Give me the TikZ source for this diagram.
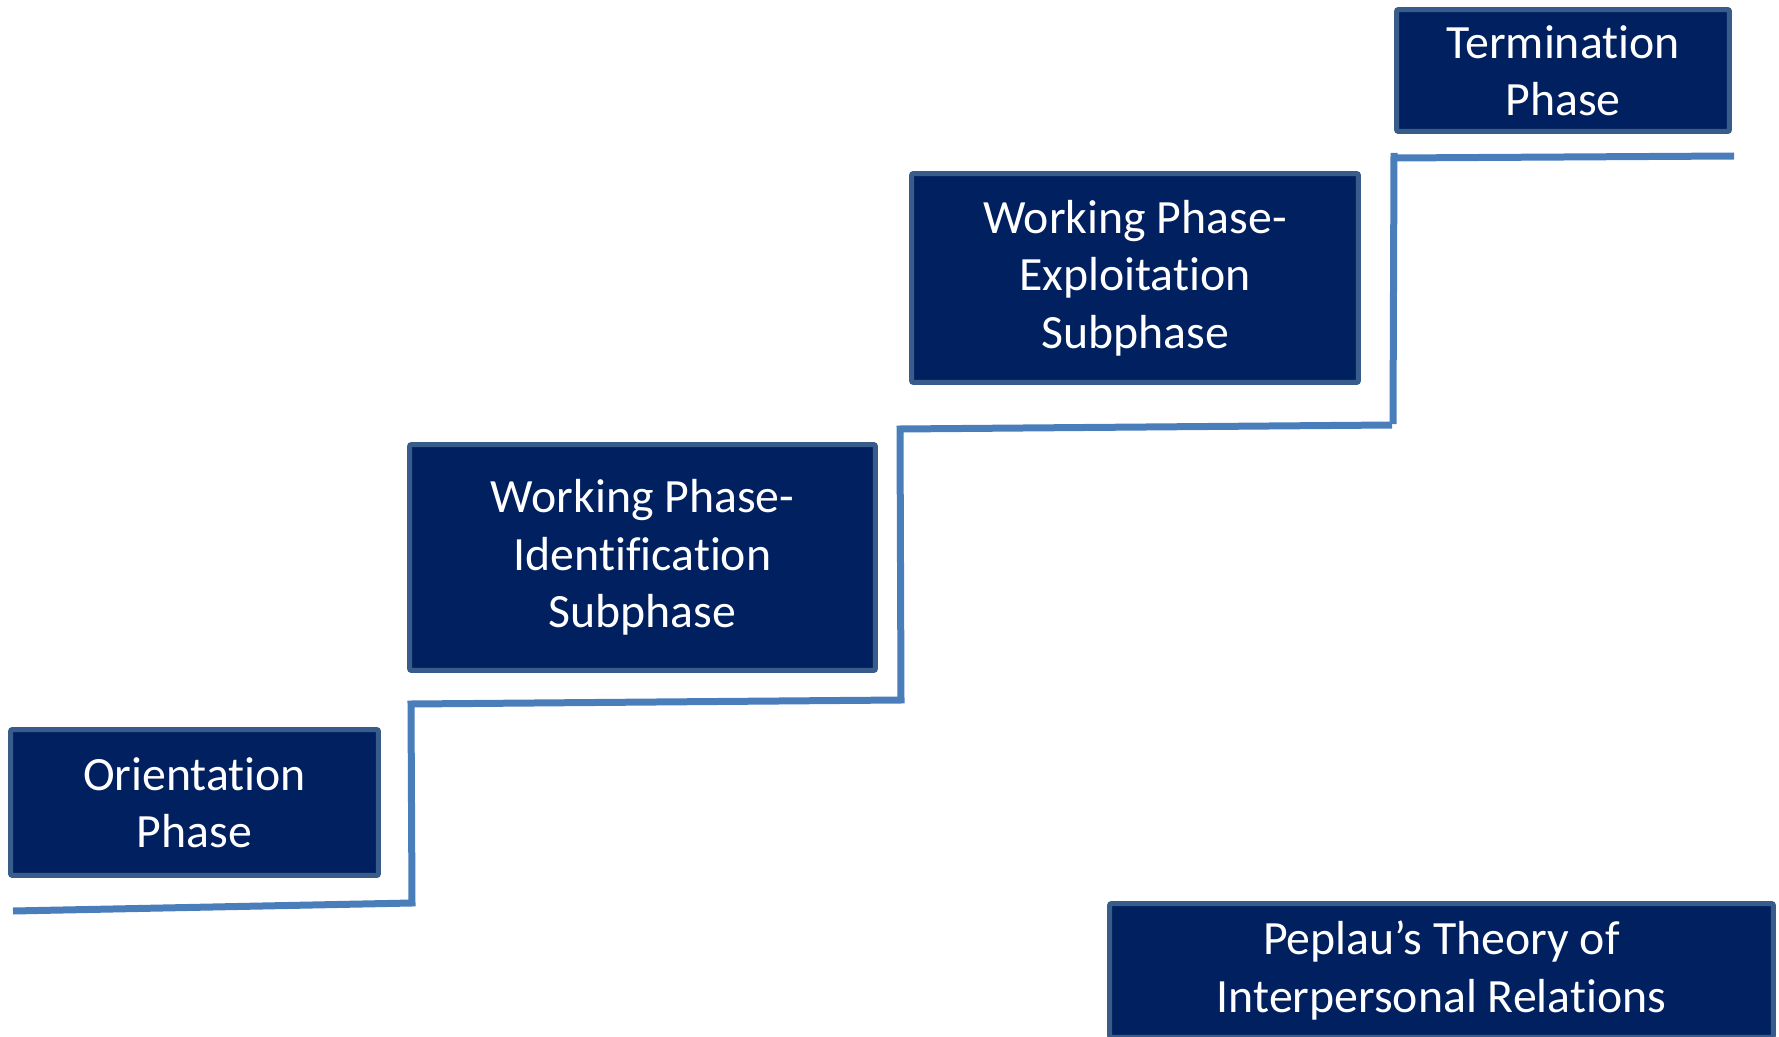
\documentclass[tikz,border=0pt]{standalone}
\usepackage{fontspec}
\setmainfont{Carlito}[Ligatures=NoCommon]
\definecolor{navy}{HTML}{002060}
\definecolor{rim}{HTML}{385D8A}
\definecolor{stair}{HTML}{4A7EBB}
\begin{document}
\begin{tikzpicture}[x=0.02cm, y=-0.02cm]
        \tikzstyle{phase}=[draw=rim, fill=navy, line width=0.1cm, rounded corners=0.04cm, text=white, align=center, inner sep=0pt, font=\fontsize{27.2}{32.6}\selectfont]
        \tikzstyle{steps}=[draw=stair, line width=0.14cm]
        \useasboundingbox (0,0) rectangle (1779,1037);

        \node[phase, minimum width=7.36cm, minimum height=2.92cm](orient) at (194.5, 802.5){Orientation\\Phase};
        \node[phase, minimum width=9.32cm, minimum height=4.52cm](ident) at (642.5, 557.5){Working Phase-\\Identification\\Subphase};
        \node[phase, minimum width=8.94cm, minimum height=4.18cm](exploit) at (1135, 278){Working Phase-\\Exploitation\\Subphase};
        \node[phase, minimum width=6.66cm, minimum height=2.44cm](term) at (1563, 70.5){Termination\\Phase};
        \node[phase, minimum width=13.28cm, minimum height=2.68cm](peplau) at (1441.5, 970.5){Peplau’s Theory of\\Interpersonal Relations};

        \draw[steps] (13,911) -- (412,903) -- (411,704) -- (901,700) -- (900,429) -- (1392,425);
        \draw[steps] (1393,424) -- (1394,153) -- (1394,158) -- (1734,156);

        \end{tikzpicture}
\end{document}
